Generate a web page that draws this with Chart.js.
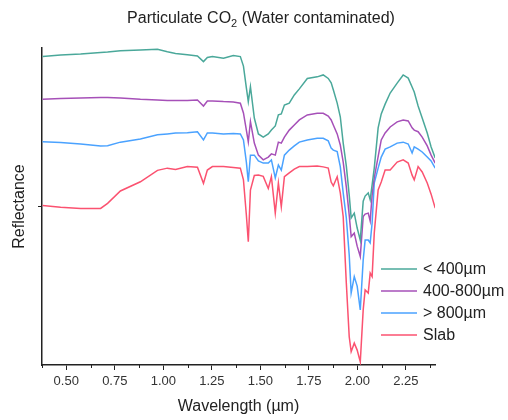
<!DOCTYPE html>
<html>
<head>
<meta charset="utf-8">
<script src="https://cdn.jsdelivr.net/npm/chart.js@4.4.1/dist/chart.umd.min.js"></script>
<style>
    html, body { margin: 0; padding: 0; background: #fff; }
    #chart { display: block; }
</style>
</head>
<body>
<canvas id="chart" width="508" height="420"></canvas>
<script>
// wavelength in micrometres, shared by all four spectra
var wavelength = [0.378, 0.471, 0.574, 0.677, 0.713, 0.779, 0.882, 0.970, 1.021, 1.063,
    1.124, 1.176, 1.207, 1.227, 1.253, 1.310, 1.361, 1.397, 1.413, 1.428,
    1.438, 1.449, 1.469, 1.490, 1.515, 1.541, 1.557, 1.577, 1.593, 1.608,
    1.624, 1.649, 1.675, 1.701, 1.742, 1.793, 1.824, 1.850, 1.865, 1.876,
    1.896, 1.912, 1.927, 1.943, 1.958, 1.968, 1.984, 1.999, 2.015, 2.030,
    2.040, 2.056, 2.066, 2.076, 2.087, 2.107, 2.123, 2.143, 2.169, 2.205,
    2.236, 2.262, 2.282, 2.293, 2.313, 2.334, 2.360, 2.380, 2.401];

// reflectance, arbitrary units (offset stacked spectra)
var fine = [97.3, 97.8, 98.1, 98.6, 98.7, 99.1, 99.4, 99.6, 98.8, 98.3,
    97.9, 97.5, 95.7, 97.0, 97.3, 96.8, 97.6, 97.3, 94.3, 87.4,
    83.1, 87.8, 77.9, 72.9, 71.9, 72.9, 74.1, 75.4, 78.9, 79.2,
    82.0, 82.6, 85.2, 87.1, 90.4, 90.9, 91.5, 90.4, 89.0, 86.8,
    82.6, 78.3, 70.0, 62.8, 53.6, 46.4, 47.9, 43.2, 39.4, 51.7,
    53.3, 54.3, 52.1, 56.8, 62.1, 74.8, 79.2, 82.3, 85.8, 88.9,
    91.5, 90.5, 87.7, 86.1, 81.7, 77.9, 73.2, 68.8, 65.3];

var medium = [83.8, 84.1, 84.2, 84.4, 84.4, 84.2, 83.8, 83.6, 83.4, 83.4,
    83.4, 83.6, 81.7, 83.3, 83.3, 83.1, 83.0, 82.6, 79.5, 74.1,
    70.4, 76.8, 70.0, 66.2, 64.7, 65.6, 66.6, 66.2, 70.3, 70.0,
    71.9, 74.1, 75.7, 77.3, 78.9, 79.4, 79.4, 78.5, 77.3, 75.7,
    72.9, 69.4, 64.0, 56.2, 47.3, 40.5, 41.6, 37.5, 34.2, 46.8,
    47.6, 47.9, 45.4, 53.6, 59.0, 65.7, 71.0, 73.2, 75.1, 76.7,
    77.3, 77.0, 74.8, 74.1, 73.6, 71.9, 69.1, 66.2, 63.7];

var coarse = [70.4, 70.2, 69.7, 69.1, 69.2, 70.3, 71.3, 72.6, 72.9, 73.2,
    73.3, 73.6, 71.0, 73.2, 73.2, 72.9, 73.0, 72.9, 71.0, 64.0,
    57.8, 66.2, 66.2, 64.4, 63.7, 63.7, 64.7, 59.0, 63.1, 61.5,
    66.2, 67.8, 69.1, 70.3, 71.0, 71.5, 71.5, 70.7, 68.4, 67.8,
    67.3, 62.6, 54.3, 46.4, 34.7, 22.7, 27.9, 24.9, 17.4, 33.1,
    39.4, 39.4, 38.5, 44.8, 57.4, 62.1, 65.6, 68.1, 68.8, 70.0,
    70.3, 69.7, 66.9, 68.8, 68.1, 67.2, 65.6, 64.4, 62.1];

var slab = [50.3, 49.8, 49.4, 49.4, 51.0, 54.9, 57.8, 61.4, 62.1, 61.7,
    62.6, 62.4, 57.3, 61.5, 62.6, 62.6, 62.3, 62.1, 58.4, 47.3,
    38.9, 55.2, 59.8, 59.9, 59.5, 55.7, 59.4, 47.9, 57.4, 49.9,
    59.4, 60.6, 61.8, 62.6, 62.6, 62.8, 62.5, 62.1, 57.7, 56.5,
    59.4, 54.3, 46.8, 25.9, 8.9, 4.2, 6.9, 4.7, 1.0, 17.4,
    23.7, 22.7, 29.0, 27.9, 41.6, 55.2, 57.7, 61.5, 61.5, 64.0,
    64.7, 63.7, 59.9, 58.4, 62.6, 60.9, 57.4, 53.9, 49.5];

var seriesNames = ["< 400\u00b5m", "400-800\u00b5m", "> 800\u00b5m", "Slab"];
var seriesColors = ["#4aa89a", "#a650b8", "#4aa2ff", "#fb5270"];
var majorTicks = [0.5, 0.75, 1.0, 1.25, 1.5, 1.75, 2.0, 2.25];
var minorTicks = [0.375, 0.625, 0.875, 1.125, 1.375, 1.625, 1.875, 2.125, 2.375];

var FONT = "'Liberation Sans', Arial, sans-serif";
var INK = "#222";

function toPoints(values) {
    return values.map(function (v, i) {
        return { x: wavelength[i], y: v };
    });
}

var datasets = [fine, medium, coarse, slab].map(function (values, i) {
    return {
        label: seriesNames[i],
        data: toPoints(values),
        borderColor: seriesColors[i],
        borderWidth: 1.5,
        pointRadius: 0,
        tension: 0,
        fill: false
    };
});

var titlePlugin = {
    id: "subTitle",
    afterDraw: function (chart) {
        var ctx = chart.ctx;
        var a = "Particulate CO";
        var b = "2";
        var c = " (Water contaminated)";
        ctx.save();
        ctx.fillStyle = INK;
        ctx.textBaseline = "alphabetic";
        ctx.font = "16px " + FONT;
        var wa = ctx.measureText(a).width;
        var wc = ctx.measureText(c).width;
        ctx.font = "11px " + FONT;
        var wb = ctx.measureText(b).width;
        var x = 261 - (wa + wb + wc) / 2;
        ctx.font = "16px " + FONT;
        ctx.fillText(a, x, 23);
        ctx.font = "11px " + FONT;
        ctx.fillText(b, x + wa, 27);
        ctx.font = "16px " + FONT;
        ctx.fillText(c, x + wa + wb, 23);
        ctx.restore();
    }
};

var minorTickPlugin = {
    id: "minorTicks",
    afterDraw: function (chart) {
        var scale = chart.scales.x;
        var ctx = chart.ctx;
        ctx.save();
        ctx.strokeStyle = INK;
        ctx.lineWidth = 1;
        minorTicks.forEach(function (v) {
            var px = Math.round(scale.getPixelForValue(v)) + 0.5;
            ctx.beginPath();
            ctx.moveTo(px, chart.chartArea.bottom);
            ctx.lineTo(px, chart.chartArea.bottom + 3);
            ctx.stroke();
        });
        ctx.restore();
    }
};

var legendPlugin = {
    id: "cornerLegend",
    afterDraw: function (chart) {
        var ctx = chart.ctx;
        ctx.save();
        ctx.font = "16px " + FONT;
        ctx.textBaseline = "middle";
        chart.data.datasets.forEach(function (ds, i) {
            var y = 269 + i * 22;
            ctx.strokeStyle = ds.borderColor;
            ctx.lineWidth = 1.5;
            ctx.beginPath();
            ctx.moveTo(381, y);
            ctx.lineTo(417, y);
            ctx.stroke();
            ctx.fillStyle = INK;
            ctx.fillText(ds.label, 423, y + 1);
        });
        ctx.restore();
    }
};

new Chart(document.getElementById("chart").getContext("2d"), {
    type: "line",
    data: { datasets: datasets },
    options: {
        responsive: false,
        animation: false,
        events: [],
        layout: { padding: { top: 48, right: 73, left: 0, bottom: 0 } },
        plugins: {
            legend: { display: false },
            tooltip: { enabled: false },
            title: { display: false }
        },
        scales: {
            x: {
                type: "linear",
                min: 0.375,
                max: 2.4,
                afterBuildTicks: function (scale) {
                    scale.ticks = majorTicks.map(function (v) { return { value: v }; });
                },
                afterFit: function (scale) {
                    scale.height = 55;
                },
                grid: { drawOnChartArea: false, drawTicks: true, tickLength: 5, tickColor: INK, tickWidth: 1 },
                border: { display: true, color: INK, width: 1.5 },
                ticks: {
                    autoSkip: false,
                    maxRotation: 0,
                    padding: 4,
                    color: "#333",
                    font: { family: FONT, size: 13 },
                    callback: function (value) {
                        return Number(value).toFixed(2);
                    }
                },
                title: {
                    display: true,
                    text: "Wavelength (\u00b5m)",
                    color: INK,
                    font: { family: FONT, size: 16 },
                    padding: { top: 0, bottom: 4 }
                }
            },
            y: {
                min: 0,
                max: 100,
                afterBuildTicks: function (scale) {
                    scale.ticks = [{ value: 50 }];
                },
                afterFit: function (scale) {
                    scale.width = 42;
                },
                grid: { drawOnChartArea: false, drawTicks: true, tickLength: 4, tickColor: INK },
                border: { display: true, color: INK, width: 1.5 },
                ticks: { display: false },
                title: {
                    display: true,
                    text: "Reflectance",
                    color: INK,
                    font: { family: FONT, size: 16 },
                    padding: { top: 10, bottom: 0 }
                }
            }
        }
    },
    plugins: [titlePlugin, minorTickPlugin, legendPlugin]
});
</script>
</body>
</html>
